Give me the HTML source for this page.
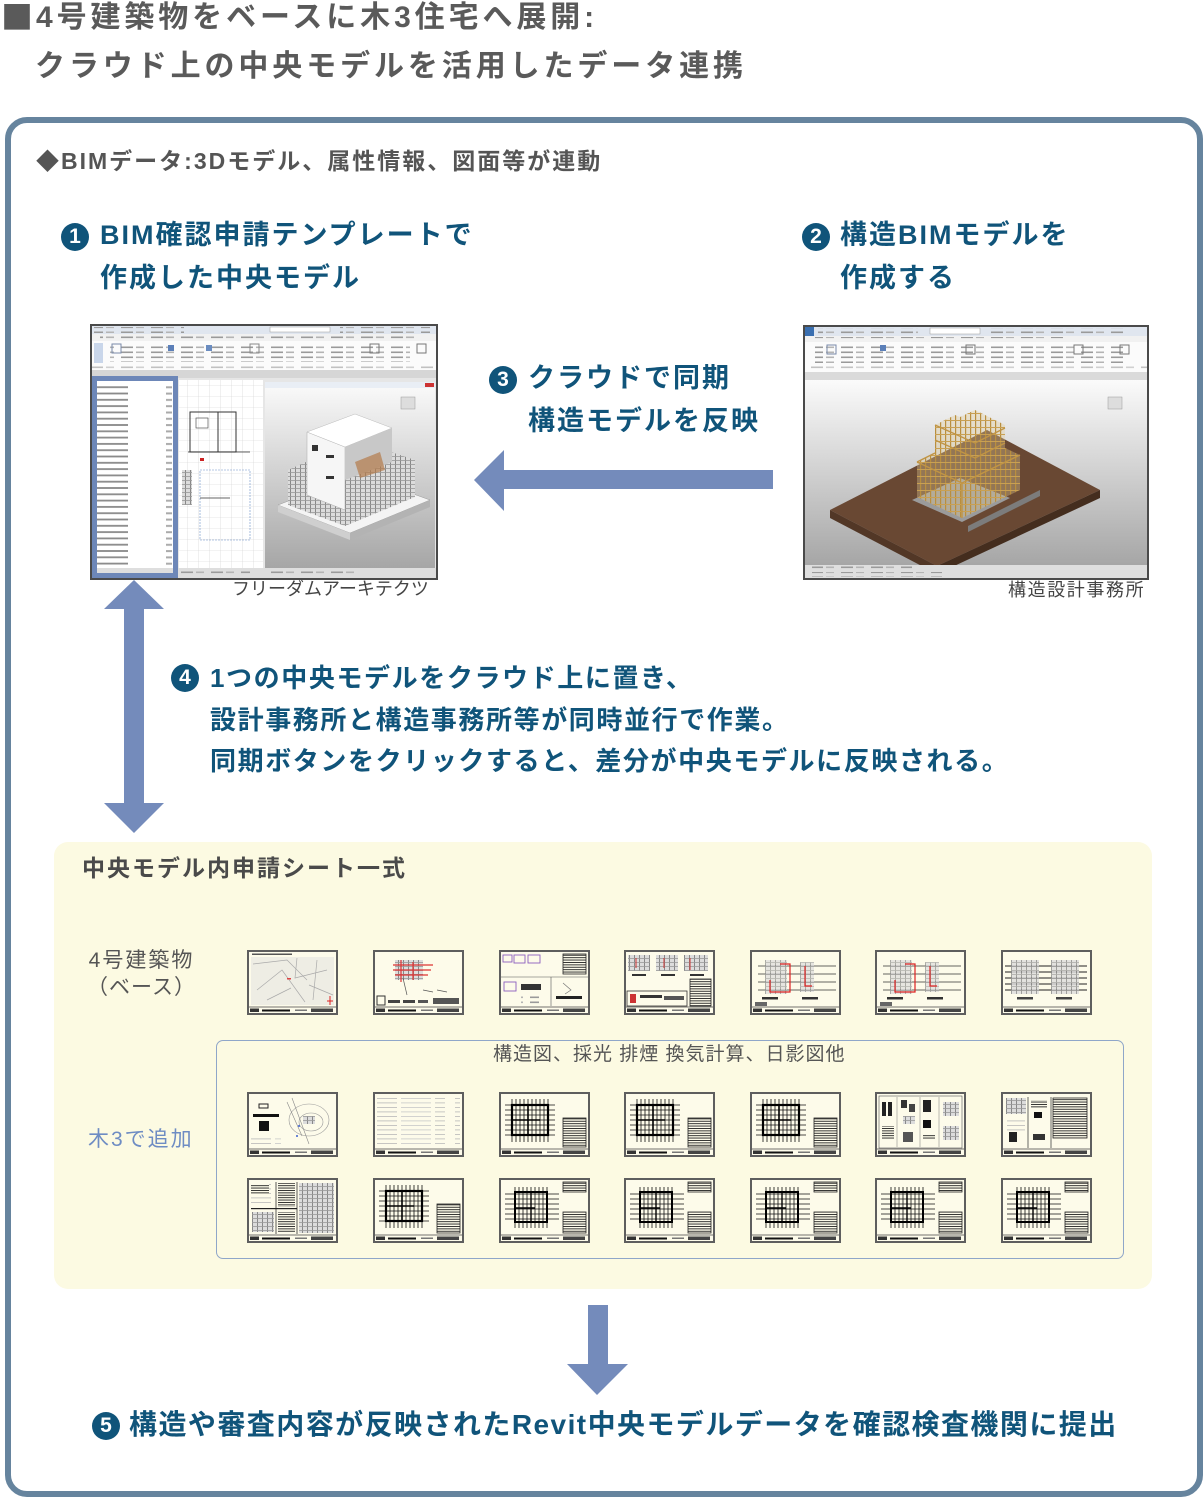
<!DOCTYPE html>
<html><head><meta charset="utf-8">
<style>
html,body{margin:0;padding:0;background:#fff;}
body{width:1204px;height:1497px;position:relative;overflow:hidden;font-family:"Liberation Sans","Noto Sans CJK JP",sans-serif;}
.t{position:absolute;white-space:nowrap;}
.ttl{font-size:30px;line-height:30px;letter-spacing:3.9px;color:#5a5a5a;font-weight:700;}
.sub{font-size:23px;line-height:23px;letter-spacing:2px;color:#555;font-weight:700;}
.st{font-size:27px;line-height:27px;letter-spacing:2px;color:#10547a;font-weight:700;}
.s4{font-size:26px;line-height:26px;letter-spacing:1.6px;color:#10547a;font-weight:700;}
.num{position:absolute;width:28px;height:28px;border-radius:50%;background:#10547a;color:#fff;font-weight:700;font-size:21px;line-height:28px;text-align:center;font-family:"Liberation Sans",sans-serif;}
.cap{font-size:18px;line-height:18px;color:#444;}
.box{position:absolute;left:5px;top:117px;width:1198px;height:1380px;box-sizing:border-box;border:6px solid #66849e;border-radius:22px;background:#fff;}
.panel{position:absolute;left:54px;top:842px;width:1098px;height:447px;background:#fcfae2;border-radius:14px;}
.inner{position:absolute;left:216px;top:1040px;width:908px;height:219px;box-sizing:border-box;border:1.5px solid #8fa6c9;border-radius:7px;}
svg{position:absolute;left:0;top:0;}
</style></head>
<body>
<div class="box"></div>
<div class="panel"></div>
<div class="inner"></div>

<svg width="1204" height="1497" viewBox="0 0 1204 1497" xmlns="http://www.w3.org/2000/svg">
<defs>
  <pattern id="txt" width="30" height="5" patternUnits="userSpaceOnUse">
    <rect x="1" y="1.5" width="12" height="1.6" fill="#9a9a9a"/><rect x="16" y="1.5" width="8" height="1.6" fill="#b4b4b4"/>
  </pattern>
  <pattern id="pb" width="80" height="6.3" patternUnits="userSpaceOnUse">
    <rect x="6" y="2" width="6" height="2" fill="#aaa"/><rect x="14" y="2" width="34" height="1.8" fill="#8a8a8a"/>
  </pattern>
  <pattern id="pgrid" width="11" height="11" patternUnits="userSpaceOnUse">
    <rect width="11" height="11" fill="#fff"/><path d="M0 0H11M0 0V11" stroke="#d0d0d0" stroke-width="0.6"/>
  </pattern>
  <pattern id="tbl" width="4" height="2.4" patternUnits="userSpaceOnUse">
    <rect width="4" height="2.4" fill="#fdfbea"/><rect width="4" height="0.9" fill="#222"/>
  </pattern>
  <pattern id="lst" width="80" height="4.5" patternUnits="userSpaceOnUse">
    <rect x="2" y="1.5" width="22" height="0.8" fill="#b8b8b8"/><rect x="28" y="1.5" width="30" height="0.8" fill="#c8c8c8"/><rect x="62" y="1.5" width="10" height="0.8" fill="#bbb"/>
  </pattern>
  <pattern id="wood" width="5" height="7" patternUnits="userSpaceOnUse">
    <rect width="5" height="7" fill="#e3cc95" fill-opacity="0.35"/><rect width="1.2" height="7" fill="#b98e3e"/><rect width="5" height="1" fill="#c9a052"/>
  </pattern>
  <pattern id="bld" width="5" height="4" patternUnits="userSpaceOnUse">
    <rect width="5" height="4" fill="#dcdcdc"/><rect width="1" height="4" fill="#888"/><rect width="5" height="0.8" fill="#999"/>
  </pattern>
  <linearGradient id="g3d" x1="0" y1="0" x2="0" y2="1">
    <stop offset="0" stop-color="#fbfbfb"/><stop offset="1" stop-color="#a6a6a6"/>
  </linearGradient>

  <g id="base">
    <rect x="1" y="1" width="89" height="63" fill="#fdfbea" stroke="#5e5e5e" stroke-width="2"/>
    <line x1="2" y1="57" x2="89" y2="57" stroke="#444" stroke-width="0.8"/>
    <rect x="3" y="58.5" width="9" height="3.5" fill="#333"/>
    <rect x="15" y="59.5" width="28" height="2" fill="#111"/>
    <rect x="48" y="59.5" width="12" height="1.5" fill="#777"/>
    <rect x="64" y="58.5" width="22" height="3.5" fill="#444"/>
  </g>
  <g id="map">
    <rect x="4" y="7" width="83" height="48" fill="#eeede4"/>
    <path d="M6 14 L40 10 L60 30 M10 40 L35 20 L58 52 M50 8 L48 28 L80 20 M62 35 L86 45 M20 50 L44 38 M70 10 L66 50" stroke="#aaa" stroke-width="0.7" fill="none"/>
    <rect x="5" y="3.5" width="40" height="1.5" fill="#555"/>
    <rect x="40" y="28" width="4" height="1.5" fill="#d44"/>
    <path d="M83 46V55M80 51H86" stroke="#d22" stroke-width="1"/>
  </g>
  <g id="plred">
    <rect x="22" y="10" width="28" height="20" fill="url(#bld)"/>
    <path d="M20 15H60M20 20H58M22 25H55M28 10V32M40 12V30" stroke="#d33" stroke-width="1.2"/>
    <path d="M30 28L34 45M50 40L60 42M64 40L74 42" stroke="#555" stroke-width="0.7"/>
    <rect x="4" y="46" width="8" height="9" fill="none" stroke="#333" stroke-width="1"/>
    <rect x="15" y="50" width="12" height="3" fill="#444"/><rect x="30" y="50" width="12" height="3" fill="#444"/><rect x="45" y="50" width="10" height="3" fill="#555"/><rect x="60" y="48" width="26" height="6" fill="#555"/>
  </g>
  <g id="purp">
    <rect x="4" y="5" width="9" height="7" fill="none" stroke="#8b5fbf" stroke-width="0.9"/>
    <rect x="15" y="5" width="11" height="8" fill="none" stroke="#8b5fbf" stroke-width="0.9"/>
    <rect x="29" y="5" width="12" height="8" fill="none" stroke="#8b5fbf" stroke-width="0.9"/>
    <rect x="5" y="32" width="12" height="9" fill="none" stroke="#8b5fbf" stroke-width="0.9"/>
    <rect x="64" y="4" width="23" height="20" fill="url(#tbl)" stroke="#222" stroke-width="0.8"/>
    <line x1="2" y1="27" x2="89" y2="27" stroke="#555" stroke-width="0.6"/>
    <line x1="52" y1="27" x2="52" y2="56" stroke="#555" stroke-width="0.6"/>
    <rect x="22" y="34" width="20" height="6" fill="#333"/>
    <rect x="22" y="44" width="18" height="10" fill="url(#txt)"/>
    <rect x="57" y="46" width="26" height="3" fill="#222"/>
    <path d="M64 33L72 40L66 44" stroke="#777" stroke-width="0.7" fill="none"/>
  </g>
  <g id="elev">
    <rect x="4" y="5" width="22" height="16" fill="url(#bld)"/><rect x="32" y="5" width="22" height="16" fill="url(#bld)"/><rect x="60" y="5" width="24" height="16" fill="url(#bld)"/>
    <path d="M12 8V18M40 8V18M66 8V20" stroke="#c33" stroke-width="1"/>
    <rect x="8" y="24" width="14" height="2" fill="#333"/><rect x="37" y="24" width="14" height="2" fill="#333"/><rect x="66" y="24" width="14" height="2" fill="#333"/>
    <rect x="66" y="29" width="21" height="27" fill="url(#tbl)" stroke="#222" stroke-width="0.8"/>
    <rect x="3" y="41" width="60" height="15" fill="none" stroke="#333" stroke-width="0.8"/>
    <rect x="6" y="44" width="6" height="9" fill="#c33"/><rect x="16" y="45" width="22" height="3" fill="#333"/><rect x="40" y="46" width="20" height="4" fill="#555"/>
  </g>
  <g id="sec">
    <path d="M8 16H86M8 24H86M8 32H86M8 40H86" stroke="#333" stroke-width="0.8"/>
    <rect x="15" y="10" width="22" height="34" fill="url(#bld)" opacity="0.7"/>
    <rect x="50" y="12" width="14" height="30" fill="url(#bld)" opacity="0.7"/>
    <path d="M30 14H40V42H20V30" stroke="#d22" stroke-width="1.2" fill="none"/>
    <path d="M55 16V36H62" stroke="#d22" stroke-width="1.2" fill="none"/>
    <rect x="12" y="47" width="16" height="2.5" fill="#333"/><rect x="52" y="47" width="16" height="2.5" fill="#333"/>
    <rect x="5" y="52" width="12" height="4" fill="#666"/>
  </g>
  <g id="sec2">
    <path d="M4 16H86M4 22H86M4 28H86M4 34H86M4 40H86" stroke="#222" stroke-width="0.9"/>
    <rect x="10" y="10" width="28" height="34" fill="url(#bld)" opacity="0.8"/>
    <rect x="50" y="10" width="28" height="34" fill="url(#bld)" opacity="0.8"/>
    <rect x="16" y="47" width="16" height="2.5" fill="#444"/><rect x="55" y="47" width="16" height="2.5" fill="#444"/>
  </g>
  <g id="site">
    <rect x="12" y="12" width="9" height="4" fill="none" stroke="#222" stroke-width="1"/>
    <rect x="6" y="22" width="26" height="3" fill="#111"/>
    <rect x="12" y="29" width="10" height="10" fill="#111"/>
    <ellipse cx="62" cy="28" rx="20" ry="16" fill="none" stroke="#999" stroke-width="0.6"/>
    <ellipse cx="64" cy="30" rx="12" ry="9" fill="none" stroke="#999" stroke-width="0.6"/>
    <rect x="56" y="24" width="12" height="8" fill="url(#bld)"/>
    <path d="M40 10L55 44M45 6L62 52" stroke="#888" stroke-width="0.6"/>
    <rect x="4" y="44" width="30" height="10" fill="url(#lst)"/>
    <circle cx="52" cy="34" r="1" fill="#3b5fd0"/><circle cx="50" cy="44" r="1" fill="#3b5fd0"/>
  </g>
  <g id="list">
    <rect x="4" y="5" width="83" height="50" fill="url(#lst)"/>
  </g>
  <g id="grid">
    <path d="M6 13H56M6 18H56M6 23H56M6 28H56M6 33H56M6 38H56M6 43H56" stroke="#111" stroke-width="0.8"/>
    <path d="M13 7V50M17 7V50M21 7V50M25 7V50M29 7V50M33 7V50M37 7V50M41 7V50M45 7V50M49 7V50" stroke="#111" stroke-width="0.8"/>
    <rect x="13" y="13" width="36" height="30" fill="none" stroke="#000" stroke-width="2.2"/>
    <path d="M29 13V43M13 28H41" stroke="#000" stroke-width="1.6"/>
    <rect x="64" y="26" width="23" height="29" fill="url(#tbl)" stroke="#222" stroke-width="0.8"/>
  </g>
  <g id="grid2">
    <path d="M6 16H60M6 21H60M6 26H60M6 31H60M6 36H60M6 41H60" stroke="#111" stroke-width="0.8"/>
    <path d="M16 9V50M20 9V50M24 9V50M28 9V50M32 9V50M36 9V50M40 9V50M44 9V50M48 9V50" stroke="#111" stroke-width="0.8"/>
    <rect x="16" y="14" width="32" height="30" fill="none" stroke="#000" stroke-width="2"/>
    <path d="M32 14V44M16 30H36" stroke="#000" stroke-width="1.4"/>
    <rect x="64" y="4" width="23" height="10" fill="url(#tbl)" stroke="#222" stroke-width="0.8"/>
    <rect x="64" y="34" width="23" height="21" fill="url(#tbl)" stroke="#222" stroke-width="0.8"/>
  </g>
  <g id="det">
    <rect x="4" y="4" width="83" height="52" fill="none" stroke="#555" stroke-width="0.6"/>
    <path d="M22 5V55M45 5V55M64 5V55" stroke="#777" stroke-width="0.5"/>
    <rect x="7" y="10" width="4" height="14" fill="#222"/><rect x="13" y="10" width="4" height="14" fill="#222"/>
    <rect x="26" y="8" width="6" height="8" fill="#333"/><rect x="34" y="12" width="6" height="8" fill="#444"/>
    <rect x="48" y="8" width="8" height="12" fill="#222"/><rect x="28" y="24" width="12" height="8" fill="url(#bld)"/>
    <rect x="48" y="28" width="8" height="8" fill="#111"/><rect x="68" y="10" width="16" height="14" fill="url(#bld)"/>
    <rect x="7" y="34" width="12" height="14" fill="url(#tbl)"/><rect x="68" y="34" width="16" height="14" fill="url(#bld)"/>
    <rect x="28" y="40" width="10" height="10" fill="#555"/><rect x="48" y="42" width="12" height="6" fill="url(#tbl)"/>
  </g>
  <g id="det2">
    <path d="M27 5V56M50 5V56" stroke="#444" stroke-width="0.8"/>
    <rect x="5" y="6" width="20" height="16" fill="url(#bld)"/>
    <rect x="6" y="26" width="18" height="14" fill="url(#lst)"/>
    <rect x="8" y="40" width="8" height="10" fill="#222"/>
    <rect x="30" y="8" width="16" height="8" fill="url(#tbl)"/><rect x="33" y="20" width="8" height="6" fill="#111"/>
    <rect x="32" y="42" width="12" height="6" fill="#333"/>
    <rect x="52" y="6" width="34" height="40" fill="url(#tbl)" stroke="#222" stroke-width="0.8"/>
  </g>
  <g id="det3">
    <rect x="4" y="4" width="24" height="24" fill="url(#lst)"/>
    <rect x="4" y="6" width="18" height="10" fill="url(#tbl)"/>
    <path d="M29 4V56M50 4V56" stroke="#333" stroke-width="0.8"/>
    <rect x="31" y="5" width="17" height="24" fill="url(#tbl)"/>
    <rect x="52" y="5" width="35" height="50" fill="url(#bld)"/>
    <rect x="5" y="34" width="22" height="20" fill="url(#bld)"/>
    <rect x="31" y="34" width="17" height="20" fill="url(#tbl)"/>
    <rect x="4" y="30" width="46" height="1.2" fill="#222"/>
  </g>
</defs>

<!-- Screenshot 1 -->
<g>
  <rect x="91" y="325" width="346" height="254" fill="#e6e6e6" stroke="#4a4a4a" stroke-width="2"/>
  <rect x="92" y="326" width="344" height="8" fill="#e0e6ef"/>
  <rect x="94" y="327" width="90" height="6" fill="url(#txt)"/>
  <rect x="270" y="327" width="60" height="5" fill="#fff" stroke="#999" stroke-width="0.5"/>
  <rect x="340" y="327" width="90" height="6" fill="url(#txt)"/>
  <rect x="92" y="334" width="344" height="7" fill="#f1f1f1"/>
  <rect x="100" y="335" width="320" height="5" fill="url(#txt)"/>
  <rect x="92" y="341" width="344" height="29" fill="#fbfbfb"/>
  <rect x="94" y="343" width="9" height="20" fill="#c9d6ea"/>
  <rect x="110" y="344" width="300" height="18" fill="url(#txt)"/>
  <rect x="112" y="344" width="9" height="9" fill="none" stroke="#7a8aa8" stroke-width="1"/>
  <rect x="168" y="345" width="6" height="6" fill="#5b7fb8"/>
  <rect x="206" y="345" width="6" height="6" fill="#6a8cc0"/>
  <rect x="250" y="344" width="9" height="9" fill="none" stroke="#888" stroke-width="1"/>
  <rect x="370" y="344" width="9" height="9" fill="none" stroke="#777" stroke-width="1"/>
  <rect x="417" y="344" width="9" height="9" fill="none" stroke="#777" stroke-width="1"/>
  <rect x="92" y="365" width="344" height="5" fill="url(#txt)" opacity="0.6"/>
  <rect x="92" y="370" width="344" height="8" fill="#d6d6d6"/>
  <!-- plan view -->
  <rect x="179" y="380" width="84" height="188" fill="url(#pgrid)"/>
  <rect x="190" y="412" width="28" height="40" fill="none" stroke="#333" stroke-width="1"/>
  <rect x="218" y="412" width="18" height="40" fill="none" stroke="#333" stroke-width="1"/>
  <rect x="196" y="418" width="12" height="10" fill="none" stroke="#555" stroke-width="0.7"/>
  <rect x="182" y="470" width="10" height="35" fill="url(#bld)"/>
  <rect x="200" y="470" width="50" height="70" fill="none" stroke="#6a8fc8" stroke-width="0.6" stroke-dasharray="2 1"/>
  <path d="M188 452H250M200 498H230" stroke="#333" stroke-width="0.8"/>
  <rect x="200" y="458" width="4" height="3" fill="#c22"/>
  <!-- 3D view -->
  <rect x="265" y="382" width="170" height="186" fill="url(#g3d)"/>
  <rect x="265" y="382" width="170" height="6" fill="#e9eef5"/>
  <rect x="425" y="383" width="9" height="4" fill="#c33"/>
  <polygon points="278,505 350,533 430,500 358,474" fill="#f4f4f4" stroke="#999" stroke-width="0.5"/>
  <polygon points="278,505 278,512 350,540 350,533" fill="#cfcfcf"/>
  <polygon points="350,533 350,540 430,507 430,500" fill="#b3b3b3"/>
  <polygon points="288,470 288,505 345,526 415,497 415,460 355,440" fill="url(#bld)"/>
  <polygon points="307,432 307,495 345,510 345,447" fill="#f6f6f6" stroke="#aaa" stroke-width="0.5"/>
  <polygon points="307,432 345,447 392,428 355,414" fill="#ffffff" stroke="#bbb" stroke-width="0.5"/>
  <polygon points="345,447 345,480 392,462 392,428" fill="#c8c8c8"/>
  <rect x="312" y="445" width="6" height="6" fill="#333"/>
  <rect x="326" y="455" width="8" height="3" fill="#333"/>
  <rect x="326" y="476" width="8" height="3" fill="#333"/>
  <polygon points="355,462 380,452 385,470 360,478" fill="#b47a4a" opacity="0.7"/>
  <rect x="401" y="397" width="14" height="12" fill="#ddd" stroke="#999" stroke-width="0.5"/>
  <!-- project browser -->
  <rect x="96" y="381" width="79" height="192" fill="#fff"/>
  <rect x="96" y="383" width="79" height="185" fill="url(#pb)"/>
  <rect x="92" y="568" width="344" height="10" fill="#dedede"/>
  <rect x="180" y="569" width="70" height="6" fill="url(#txt)"/>
  <rect x="270" y="569" width="90" height="6" fill="url(#txt)"/>
  <rect x="94.5" y="378.5" width="81" height="197" fill="none" stroke="#6d87b8" stroke-width="5"/>
</g>

<!-- Screenshot 2 -->
<g>
  <rect x="804" y="326" width="344" height="253" fill="#e6e6e6" stroke="#4a4a4a" stroke-width="2"/>
  <rect x="805" y="327" width="342" height="9" fill="#e0e6ef"/>
  <rect x="805" y="327" width="9" height="9" fill="#3a6fb0"/>
  <rect x="818" y="328" width="100" height="6" fill="url(#txt)"/>
  <rect x="930" y="328" width="50" height="6" fill="#fff" stroke="#999" stroke-width="0.5"/>
  <rect x="985" y="328" width="140" height="6" fill="url(#txt)"/>
  <rect x="805" y="336" width="342" height="6" fill="#f1f1f1"/>
  <rect x="815" y="337" width="250" height="4" fill="url(#txt)"/>
  <rect x="805" y="342" width="342" height="30" fill="#fbfbfb"/>
  <rect x="815" y="345" width="310" height="18" fill="url(#txt)"/>
  <rect x="827" y="345" width="9" height="9" fill="none" stroke="#7a8aa8" stroke-width="1"/>
  <rect x="880" y="345" width="6" height="6" fill="#5b7fb8"/>
  <rect x="966" y="345" width="9" height="9" fill="none" stroke="#777" stroke-width="1"/>
  <rect x="1074" y="345" width="9" height="9" fill="none" stroke="#777" stroke-width="1"/>
  <rect x="1120" y="345" width="9" height="9" fill="none" stroke="#777" stroke-width="1"/>
  <rect x="805" y="365" width="342" height="5" fill="url(#txt)" opacity="0.6"/>
  <rect x="805" y="372" width="342" height="8" fill="#dadada"/>
  <rect x="805" y="380" width="342" height="185" fill="url(#g3d)"/>
  <polygon points="830,510 987,430 1100,490 937,566" fill="#694833"/>
  <polygon points="830,510 937,566 937,574 830,518" fill="#523726"/>
  <polygon points="937,566 1100,490 1100,498 937,574" fill="#442d1e"/>
  <polygon points="912,500 960,478 1010,498 962,522" fill="#9b9b9b"/>
  <polygon points="968,526 1040,490 1040,496 968,532" fill="#7c7c7c"/>
  <polygon points="917,462 917,497 962,518 1020,490 1020,455 1005,448 1005,425 975,410 960,417 955,415 935,425 935,453" fill="url(#wood)"/>
  <path d="M917,462 L962,483 L1020,455 M962,483 V518 M935,440 L975,458 L1005,443 M935,425 L975,443 L1005,428 M917,462 L935,453" stroke="#c09445" stroke-width="1.4" fill="none"/>
  <rect x="1108" y="397" width="14" height="12" fill="#ddd" stroke="#999" stroke-width="0.5"/>
  <rect x="805" y="565" width="342" height="13" fill="#dedede"/>
  <rect x="812" y="566" width="100" height="5" fill="url(#txt)"/>
  <rect x="812" y="572" width="130" height="5" fill="url(#txt)"/>
</g>

<!-- arrows -->
<polygon points="134,580 164,609 144,609 144,803 164,803 134,833 104,803 124,803 124,609 104,609" fill="#748bbb"/>
<polygon points="474,480 504,450 504,470 773,470 773,489 504,489 504,511" fill="#748bbb"/>
<polygon points="588,1305 608,1305 608,1364 628,1364 597,1395 567,1364 588,1364" fill="#748bbb"/>

<!-- thumbnails -->
<use href="#base" x="247" y="950"/><use href="#map" x="247" y="950"/>
<use href="#base" x="373" y="950"/><use href="#plred" x="373" y="950"/>
<use href="#base" x="499" y="950"/><use href="#purp" x="499" y="950"/>
<use href="#base" x="624" y="950"/><use href="#elev" x="624" y="950"/>
<use href="#base" x="750" y="950"/><use href="#sec" x="750" y="950"/>
<use href="#base" x="875" y="950"/><use href="#sec" x="875" y="950"/>
<use href="#base" x="1001" y="950"/><use href="#sec2" x="1001" y="950"/>

<use href="#base" x="247" y="1092"/><use href="#site" x="247" y="1092"/>
<use href="#base" x="373" y="1092"/><use href="#list" x="373" y="1092"/>
<use href="#base" x="499" y="1092"/><use href="#grid" x="499" y="1092"/>
<use href="#base" x="624" y="1092"/><use href="#grid" x="624" y="1092"/>
<use href="#base" x="750" y="1092"/><use href="#grid" x="750" y="1092"/>
<use href="#base" x="875" y="1092"/><use href="#det" x="875" y="1092"/>
<use href="#base" x="1001" y="1092"/><use href="#det2" x="1001" y="1092"/>

<use href="#base" x="247" y="1178"/><use href="#det3" x="247" y="1178"/>
<use href="#base" x="373" y="1178"/><use href="#grid" x="373" y="1178"/>
<use href="#base" x="499" y="1178"/><use href="#grid2" x="499" y="1178"/>
<use href="#base" x="624" y="1178"/><use href="#grid2" x="624" y="1178"/>
<use href="#base" x="750" y="1178"/><use href="#grid2" x="750" y="1178"/>
<use href="#base" x="875" y="1178"/><use href="#grid2" x="875" y="1178"/>
<use href="#base" x="1001" y="1178"/><use href="#grid2" x="1001" y="1178"/>
</svg>

<!-- Title -->
<div class="t" style="left:1px;top:0px;font-family:'Noto Sans CJK JP',sans-serif;font-size:32px;line-height:32px;color:#5a5a5a;">■</div>
<div class="t ttl" style="left:36px;top:3px;">4号建築物をベースに木3住宅へ展開:</div>
<div class="t ttl" style="left:35px;top:52px;">クラウド上の中央モデルを活用したデータ連携</div>

<div class="t sub" style="left:36px;top:148px;"><span style="font-family:'Noto Sans CJK JP',sans-serif;">◆</span>BIMデータ:3Dモデル、属性情報、図面等が連動</div>

<!-- Step 1 -->
<div class="num" style="left:61px;top:223px;">1</div>
<div class="t st" style="left:100px;top:222px;">BIM確認申請テンプレートで</div>
<div class="t st" style="left:100px;top:265px;">作成した中央モデル</div>

<!-- Step 2 -->
<div class="num" style="left:802px;top:223px;">2</div>
<div class="t st" style="left:840px;top:222px;">構造BIMモデルを</div>
<div class="t st" style="left:840px;top:265px;">作成する</div>

<!-- Step 3 -->
<div class="num" style="left:489px;top:366px;">3</div>
<div class="t st" style="left:528px;top:365px;">クラウドで同期</div>
<div class="t st" style="left:528px;top:408px;">構造モデルを反映</div>

<!-- Captions -->
<div class="t cap" style="left:232px;top:580px;">フリーダムアーキテクツ</div>
<div class="t cap" style="left:1008px;top:581px;letter-spacing:1.6px;">構造設計事務所</div>

<!-- Step 4 -->
<div class="num" style="left:171px;top:664px;">4</div>
<div class="t s4" style="left:210px;top:665px;">1つの中央モデルをクラウド上に置き、</div>
<div class="t s4" style="left:210px;top:707px;">設計事務所と構造事務所等が同時並行で作業。</div>
<div class="t s4" style="left:210px;top:748px;">同期ボタンをクリックすると、差分が中央モデルに反映される。</div>

<!-- Panel -->
<div class="t" style="left:82px;top:857px;font-size:23px;line-height:23px;letter-spacing:2px;color:#4a4a4a;font-weight:700;">中央モデル内申請シート一式</div>
<div class="t" style="left:84px;top:950px;width:115px;text-align:center;font-size:21px;line-height:21px;letter-spacing:2px;color:#555;">4号建築物</div>
<div class="t" style="left:84px;top:977px;width:115px;text-align:center;font-size:21px;line-height:21px;letter-spacing:1px;color:#555;">（ベース）</div>
<div class="t" style="left:88px;top:1129px;font-size:21px;line-height:21px;letter-spacing:2px;color:#6e8cc3;">木3で追加</div>
<div class="t" style="left:493px;top:1045px;font-size:19px;line-height:19px;letter-spacing:1px;color:#555;">構造図、採光 排煙 換気計算、日影図他</div>

<!-- Step 5 -->
<div class="num" style="left:92px;top:1412px;">5</div>
<div class="t" style="left:129px;top:1411px;font-size:28px;line-height:28px;letter-spacing:1.45px;color:#10547a;font-weight:700;">構造や審査内容が反映されたRevit中央モデルデータを確認検査機関に提出</div>
</body></html>
